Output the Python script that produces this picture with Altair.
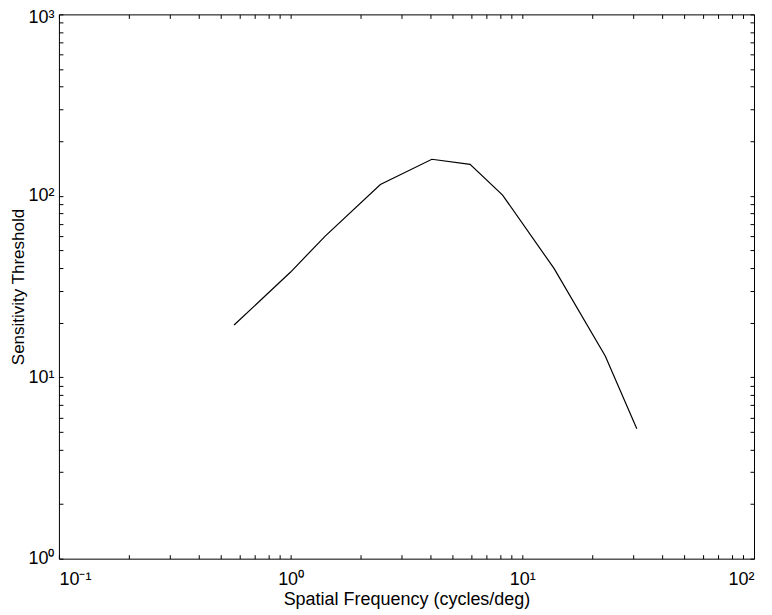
import altair as alt
import pandas as pd

freq = [0.57, 1.0, 1.41, 2.44, 4.07, 5.95, 8.22, 13.7, 22.8, 31.2]
sens = [19.4, 38.0, 60.0, 115.5, 159.0, 149.0, 101.0, 39.8, 13.1, 5.2]

x_major = [0.1, 1, 10, 100]
y_major = [1, 10, 100, 1000]
x_ticks = [m * d for d in [0.1, 1, 10] for m in range(1, 10)] + [100]
y_ticks = [m * d for d in [1, 10, 100] for m in range(1, 10)] + [1000]

df = pd.DataFrame({"freq": freq, "sens": sens})

W, H = 696, 545
FONT = "Liberation Sans"

xscale = alt.Scale(type="log", domain=[0.1, 100], nice=False)
yscale = alt.Scale(type="log", domain=[1, 1000], nice=False)

x_lab = ("datum.value < 0.5 ? '10⁻¹' : datum.value < 5 ? '10⁰' : "
         "datum.value < 50 ? '10¹' : '10²'")
y_lab = ("datum.value < 5 ? '10⁰' : datum.value < 50 ? '10¹' : "
         "datum.value < 500 ? '10²' : '10³'")

base = alt.Chart(df)

main = base.mark_line(color="black", strokeWidth=1.2).encode(
    x=alt.X("freq:Q", scale=xscale,
            axis=alt.Axis(orient="bottom", values=x_major, labelExpr=x_lab,
                          ticks=False, domain=False, grid=False,
                          labelPadding=12, labelFontSize=18,
                          title="Spatial Frequency (cycles/deg)",
                          titleFontSize=18, titleY=46, titleX=W / 2,
                          titleBaseline="alphabetic")),
    y=alt.Y("sens:Q", scale=yscale,
            axis=alt.Axis(orient="left", values=y_major, labelExpr=y_lab,
                          ticks=False, domain=False, grid=False,
                          labelPadding=5, labelFontSize=18,
                          labelBaseline="middle",
                          labelOffset={"condition": {"test": "datum.value > 500", "value": 3},
                                       "value": 0},
                          title="Sensitivity Threshold",
                          titleFontSize=17, titleX=-35, titleY=H / 2,
                          titleAngle=-90, titleAlign="center",
                          titleBaseline="alphabetic")),
)

def tick_axis(orient, values, offset):
    return alt.Axis(orient=orient, values=values, offset=offset, labels=False,
                    ticks=True, tickSize=4, tickColor="black", tickWidth=1,
                    domain=False, grid=False, title=None)

ticks_bl = base.mark_line(opacity=0).encode(
    x=alt.X("freq:Q", scale=xscale, axis=tick_axis("top", x_ticks, -H)),
    y=alt.Y("sens:Q", scale=yscale, axis=tick_axis("right", y_ticks, -W)),
)
ticks_tr = base.mark_line(opacity=0).encode(
    x=alt.X("freq:Q", scale=xscale, axis=tick_axis("bottom", x_ticks, -H)),
    y=alt.Y("sens:Q", scale=yscale, axis=tick_axis("left", y_ticks, -W)),
)

chart = alt.layer(main, ticks_bl, ticks_tr).resolve_axis(
    x="independent", y="independent"
).properties(
    width=W, height=H,
    autosize=alt.AutoSizeParams(type="none"),
    padding={"left": 51, "top": 6, "right": 10, "bottom": 53},
).configure_view(
    stroke="black", strokeWidth=1
).configure_axis(
    labelFont=FONT, titleFont=FONT, labelColor="black", titleColor="black",
    titleFontWeight="normal"
)

chart.save("out.html", embed_options={"renderer": "svg", "actions": False})
